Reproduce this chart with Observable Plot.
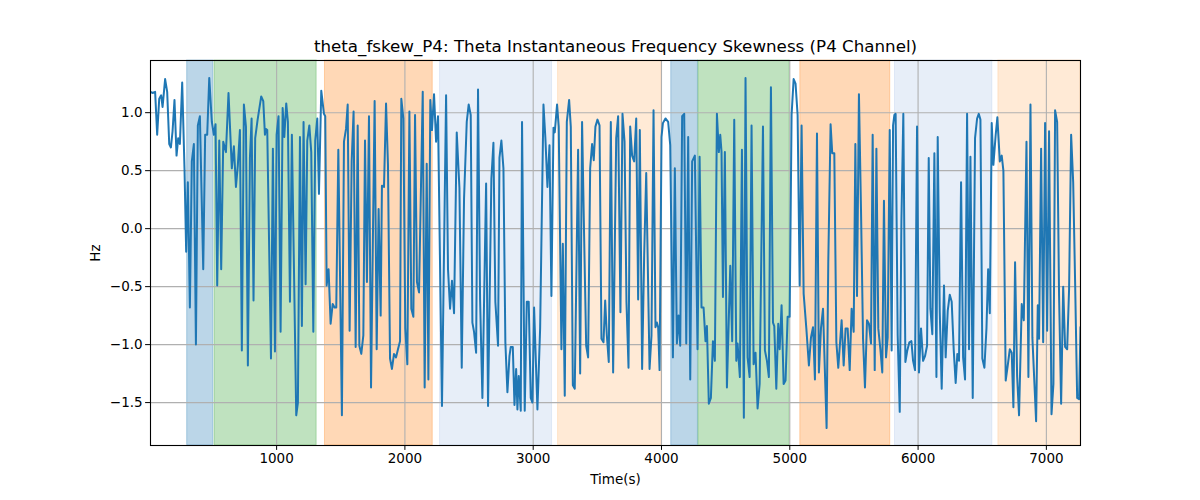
<!DOCTYPE html>
<html>
<head>
<meta charset="utf-8">
<script src="https://cdn.jsdelivr.net/npm/d3@7"></script>
<script src="https://cdn.jsdelivr.net/npm/@observablehq/plot@0.6"></script>
<style>
  html, body { margin: 0; padding: 0; background: #ffffff; }
  #chart { width: 1200px; height: 500px; }
</style>
</head>
<body>
<div id="chart"></div>
<script>
const titleText = "theta_fskew_P4: Theta Instantaneous Frequency Skewness (P4 Channel)";
const xLabel = "Time(s)";
const yLabel = "Hz";
const xTicks = [1000, 2000, 3000, 4000, 5000, 6000, 7000];
const yTicks = [-1.5, -1.0, -0.5, 0.0, 0.5, 1.0];

const times = [
  17,32,53,69,85,100,111,131,147,163,176,189,204,220,233,246,264,282,295,308,324,339,355,371,386,402,428,443,459,475,495,511,524,537,553,568,584,
  605,625,651,667,683,698,714,729,745,761,776,792,805,820,833,852,880,896,909,917,927,956,971,987,1000,1015,1031,1047,1060,1075,1088,1104,1119,1153,1166,1182,1197,1210,
  1226,1239,1255,1270,1286,1301,1317,1330,1348,1369,1379,1390,1405,1421,1437,1452,1465,1481,1509,1525,1541,1554,1569,1585,1600,1616,1632,1645,1660,1676,1689,1704,1720,1736,1764,1780,1795,1811,
  1821,1837,1853,1868,1884,1899,1915,1931,1946,1962,1972,1988,2003,2019,2035,2050,2066,2079,2094,2110,2139,2154,2170,2183,2198,2211,2227,2243,2258,2289,2321,2336,2352,2367,2383,2404,2425,
  2443,2461,2482,2497,2513,2526,2539,2555,2570,2586,2604,2633,2648,2674,2690,2705,2726,2737,2752,2768,2783,2799,2815,2825,2841,2854,2867,2877,2887,2903,2913,2934,2950,2965,2981,2994,3007,3033,
  3054,3080,3095,3111,3127,3142,3158,3168,3186,3199,3220,3231,3246,3262,3280,3293,3309,3324,3350,3366,3381,3397,3413,3428,3444,3459,3472,3485,3501,3517,3532,3548,3561,3574,3589,3605,3623,3647,
  3662,3680,3696,3712,3727,3743,3756,3771,3787,3803,3818,3831,3849,3865,3881,3907,3922,3938,3953,3964,3974,3985,4000,4011,4031,4052,4068,4089,4104,4120,4133,4146,4161,4177,4193,4208,4224,4239,4260,
  4281,4297,4312,4328,4343,4354,4369,4385,4401,4416,4432,4447,4458,4468,4479,4494,4510,4536,4551,4567,4583,4593,4611,4627,4642,4655,4671,4687,4702,4718,4733,4749,4765,4791,4806,4822,4837,4853,4869,
  4879,4895,4910,4921,4936,4952,4967,4983,4999,5014,5030,5045,5061,5077,5092,5108,5129,5149,5165,5181,5196,5212,5227,5243,5259,5287,5300,5318,5331,5347,5363,5378,5404,5420,5435,5451,5467,5482,
  5498,5511,5524,5539,5555,5571,5586,5602,5617,5633,5646,5662,5675,5690,5706,5721,5734,5750,5763,5779,5794,5805,5815,5825,5841,5857,5870,5885,5901,5916,5932,5948,5961,5976,5992,6007,6023,6039,6054,6070,6083,
  6096,6111,6127,6143,6153,6169,6184,6202,6215,6231,6247,6262,6278,6293,6306,6319,6335,6351,6366,6382,6397,6408,6426,6444,6460,6473,6486,6501,6517,6533,6546,6559,6574,6587,6605,6618,6637,6652,6665,
  6683,6699,6715,6730,6743,6756,6772,6787,6808,6824,6845,6860,6876,6891,6907,6920,6933,6943,6959,6975,6990,7006,7021,7040,7055,7068,7084,7099,7115,7131,7146,7162,7177,7193,7209,7224,7240,7255,7266
];

const values = [
  1.18,1.17,1.18,0.81,1.12,1.15,1.05,1.29,1.18,0.73,0.70,0.84,1.11,0.63,0.78,0.73,1.26,0.52,-0.20,0.40,-0.68,0.58,0.73,-1.00,0.89,0.97,-0.35,0.81,0.81,1.30,0.92,0.81,0.90,-0.49,0.76,-0.35,0.75,
  0.66,1.17,0.52,0.71,0.36,0.55,0.85,-1.05,1.07,0.88,-1.18,0.61,0.95,-0.62,0.78,0.94,1.14,1.10,0.81,0.86,0.85,-1.12,0.69,-1.06,0.81,0.97,-0.89,1.04,0.79,1.08,0.92,-0.63,0.81,-1.61,-1.50,0.79,-0.84,0.92,
  -0.48,0.76,0.89,0.66,-0.89,0.76,0.95,0.30,1.19,0.99,0.97,-0.49,-0.35,-0.82,-0.65,-0.68,-0.68,0.68,-1.61,0.75,0.86,1.07,-0.88,0.58,1.01,-1.02,0.89,-1.01,-1.08,-0.92,0.76,-0.46,0.97,-1.37,1.10,-1.04,0.17,-0.75,
  0.37,0.36,1.08,0.55,-1.12,-1.21,-1.08,-1.11,-1.04,-0.97,1.12,0.95,-0.86,-1.17,1.01,-0.69,-0.76,0.98,-0.46,-0.55,1.18,-1.37,0.56,-1.30,1.11,0.85,1.16,0.75,0.97,-1.53,1.15,-0.35,-0.69,-0.45,-0.73,0.83,0.35,
  -1.20,0.26,0.92,1.07,0.98,-0.81,-0.89,-1.07,1.20,-0.61,-1.46,0.39,-1.53,0.43,0.74,-0.63,-1.01,0.61,0.76,0.52,-0.98,-1.41,-1.10,-1.02,-1.02,-1.52,-1.21,-1.56,-1.27,-1.57,0.92,-1.57,-0.63,-0.63,-1.46,-1.50,-0.68,-1.56,
  -0.86,1.07,0.78,0.36,0.72,-0.58,0.87,0.83,1.07,0.88,-1.04,-0.13,-1.44,0.92,1.11,0.88,-1.35,-1.38,0.68,-1.25,0.92,-0.07,-1.01,-1.11,0.52,0.73,0.59,0.88,0.94,0.89,-0.95,-0.98,-0.62,-0.92,-1.15,0.92,-1.24,0.78,
  0.97,-0.72,0.99,0.75,-0.63,-1.20,0.88,0.63,0.58,0.95,-0.61,0.85,-1.21,-0.23,0.48,-1.21,-0.92,1.02,-0.85,-0.81,-0.85,-1.22,0.79,0.91,0.95,0.92,0.72,-1.11,0.52,-0.99,-0.75,-1.01,0.97,0.99,-0.99,0.79,-1.30,0.58,0.63,
  -1.04,0.62,-0.68,-0.68,-0.97,-0.84,-1.51,-1.46,-0.97,-1.14,0.99,0.66,0.81,0.66,-0.59,0.66,-1.37,-0.32,-0.97,0.94,-1.14,-0.99,-1.28,0.68,-1.63,1.30,-1.11,-1.28,0.89,-1.17,-1.07,-1.55,-1.34,0.88,-1.05,-1.14,-1.28,1.22,-0.81,
  -0.84,-1.38,-0.82,-1.04,-0.66,-1.34,-1.31,-0.76,-0.76,0.98,1.29,1.25,0.98,-0.49,0.89,-0.56,-0.86,-1.18,-0.94,-0.85,-1.30,0.82,-1.24,-0.86,-0.69,-1.72,-0.29,0.90,0.65,0.65,-0.98,-1.20,-0.79,-1.18,-0.86,-0.86,-1.22,-0.69,
  -0.89,0.73,-0.58,1.16,0.17,-0.95,-1.37,-0.79,-0.82,-0.99,0.81,-1.22,0.69,-0.86,-1.04,-1.24,0.24,-1.11,-0.94,0.85,-1.05,0.89,0.98,0.99,-0.92,-1.58,0.06,0.99,-1.15,-1.05,-0.98,-0.97,-1.14,-1.22,0.88,-1.24,-0.86,-1.14,-1.10,-1.01,0.61,
  -0.69,-0.91,0.65,-1.28,0.79,-0.72,-1.38,-0.49,-1.11,-0.71,-0.57,-0.63,-1.05,-1.33,-1.08,-1.14,0.40,-1.11,-1.30,0.99,-1.04,0.62,-1.46,0.78,0.95,0.99,0.94,-1.12,-1.20,-0.86,-0.35,-0.73,0.91,0.55,0.81,0.96,0.58,0.63,0.50,
  -1.31,-1.18,-1.04,-1.07,-1.54,-0.29,-1.27,-1.61,-0.65,-0.79,0.75,-1.28,1.07,-0.94,-1.34,-1.66,-0.66,-0.95,0.69,-0.98,0.91,-0.88,0.84,-1.60,-1.34,1.02,0.92,-0.58,-1.51,-0.50,-1.02,-1.04,-0.52,0.81,0.40,-0.46,-1.46,-1.47,-0.85
];

const regionStart = [303, 516, 1377, 2274, 3194, 4076, 4288, 5082, 5820, 6626];
const regionEnd   = [506, 1312, 2217, 3147, 3998, 4284, 4999, 5783, 6579, 7266];
const regionColor = ["#1f77b4", "#2ca02c", "#ff7f0e", "#aec7e8", "#ffbb78",
                     "#1f77b4", "#2ca02c", "#ff7f0e", "#aec7e8", "#ffbb78"];

const series = times.map((t, i) => ({t, v: values[i]}));
const regions = regionStart.map((s, i) => ({x1: s, x2: regionEnd[i], c: regionColor[i]}));

const chart = Plot.plot({
  width: 1200,
  height: 500,
  marginLeft: 150,
  marginRight: 120,
  marginTop: 60,
  marginBottom: 55,
  style: {fontFamily: "DejaVu Sans, sans-serif", fontSize: "13.5px", background: "#ffffff", color: "#000"},
  x: {domain: [17, 7266]},
  y: {domain: [-1.87, 1.45]},
  marks: [
    Plot.rect(regions, {x1: "x1", x2: "x2", fill: "c", fillOpacity: 0.3, stroke: "c", strokeOpacity: 0.3, strokeWidth: 1}),
    Plot.gridX(xTicks, {stroke: "#b0b0b0", strokeOpacity: 1, strokeWidth: 1.1}),
    Plot.gridY(yTicks, {stroke: "#b0b0b0", strokeOpacity: 1, strokeWidth: 1.1}),
    Plot.line(series, {x: "t", y: "v", stroke: "#1f77b4", strokeWidth: 2, clip: true}),
    Plot.frame({stroke: "#000", strokeWidth: 1.1}),
    Plot.axisX({ticks: xTicks, tickFormat: "d", tickSize: 4.9, tickPadding: 3, label: xLabel, labelAnchor: "center", labelArrow: "none", labelOffset: 38}),
    Plot.axisY({ticks: yTicks, tickFormat: ".1f", tickSize: 4.9, tickPadding: 3, label: yLabel, labelAnchor: "center", labelArrow: "none", labelOffset: 60}),
    Plot.text([titleText], {frameAnchor: "top", lineAnchor: "middle", dy: -14, fontSize: 16.7, text: d => d, fill: "#000"})
  ]
});
document.getElementById("chart").appendChild(chart);
</script>
</body>
</html>
